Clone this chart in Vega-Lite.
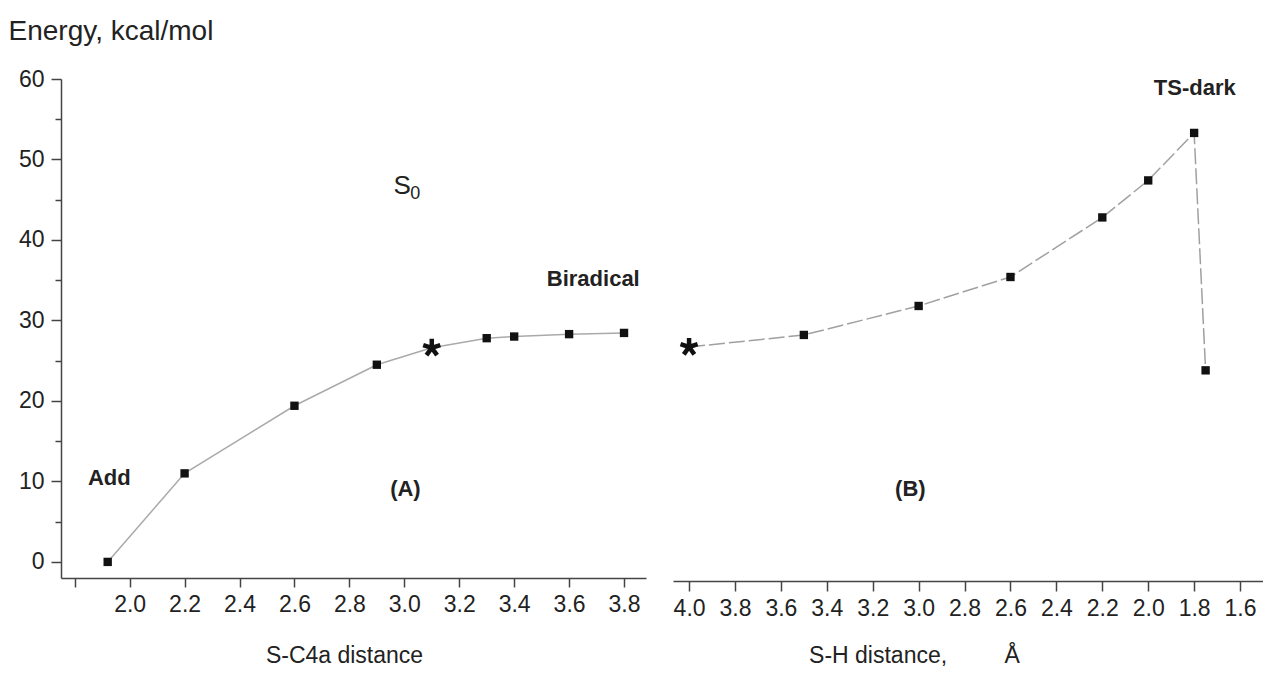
{
  "$schema": "https://vega.github.io/schema/vega-lite/v6.json",
  "background": "white",
  "padding": {"left": 8, "top": 17, "right": 0, "bottom": 0},
  "config": {
    "view": {"stroke": null},
    "font": "Liberation Sans",
    "axis": {"grid": false, "domainColor": "#444", "domainWidth": 1.5, "tickColor": "#444", "tickWidth": 1.5, "labelColor": "#222", "titleColor": "#222", "labelFont": "Liberation Sans", "titleFont": "Liberation Sans", "labelFontSize": 23, "titleFontWeight": "normal", "titleFontSize": 23, "labelOverlap": false, "labelFlush": false}
  },
  "datasets": {
    "A": [
      {"d": 1.92, "E": 0, "m": "sq"},
      {"d": 2.2, "E": 11.0, "m": "sq"},
      {"d": 2.6, "E": 19.4, "m": "sq"},
      {"d": 2.9, "E": 24.5, "m": "sq"},
      {"d": 3.1, "E": 26.6, "m": "star"},
      {"d": 3.3, "E": 27.8, "m": "sq"},
      {"d": 3.4, "E": 28.0, "m": "sq"},
      {"d": 3.6, "E": 28.3, "m": "sq"},
      {"d": 3.8, "E": 28.45, "m": "sq"}
    ],
    "B": [
      {"d": 4.0, "E": 26.7, "m": "star"},
      {"d": 3.5, "E": 28.2, "m": "sq"},
      {"d": 3.0, "E": 31.8, "m": "sq"},
      {"d": 2.6, "E": 35.4, "m": "sq"},
      {"d": 2.2, "E": 42.8, "m": "sq"},
      {"d": 2.0, "E": 47.4, "m": "sq"},
      {"d": 1.8, "E": 53.3, "m": "sq"},
      {"d": 1.75, "E": 23.8, "m": "sq"}
    ],
    "annA": [
      {"x": 1.926, "y": 10.42, "t": "Add"},
      {"x": 3.004, "y": 9.12, "t": "(A)"},
      {"x": 3.688, "y": 35.09, "t": "Biradical"}
    ],
    "annS": [{"x": 2.992, "y": 46.74, "t": "S"}],
    "annS0": [{"x": 3.04, "y": 45.75, "t": "0"}],
    "annB": [
      {"x": 3.036, "y": 9.12, "t": "(B)"},
      {"x": 1.797, "y": 58.86, "t": "TS-dark"}
    ]
  },
  "spacing": 25,
  "resolve": {"scale": {"x": "independent", "y": "independent"}},
  "hconcat": [
    {
      "width": 585,
      "height": 499,
      "layer": [
        {
          "data": {"name": "A"},
          "mark": {"type": "line", "color": "#aaaaaa", "strokeWidth": 1.5},
          "encoding": {
            "x": {
              "field": "d", "type": "quantitative",
              "scale": {"domain": [1.75, 3.88], "nice": false, "zero": false},
              "axis": {
                "values": [1.8, 1.9, 2.0, 2.1, 2.2, 2.3, 2.4, 2.5, 2.6, 2.7, 2.8, 2.9, 3.0, 3.1, 3.2, 3.3, 3.4, 3.5, 3.6, 3.7, 3.8],
                "format": ".1f",
                "labelExpr": "abs(datum.value*5 - round(datum.value*5)) < 0.001 && datum.value > 1.85 ? datum.label : ''",
                "tickSize": {"condition": {"test": "abs(datum.value*5 - round(datum.value*5)) < 0.001", "value": 9}, "value": 6},
                "labelPadding": 6,
                "title": "S-C4a distance",
                "titleX": 283,
                "titleY": 84,
                "titleAlign": "center",
                "titleBaseline": "alphabetic"
              }
            },
            "y": {
              "field": "E", "type": "quantitative",
              "scale": {"domain": [-2, 60], "nice": false, "zero": false},
              "axis": {
                "values": [0, 5, 10, 15, 20, 25, 30, 35, 40, 45, 50, 55, 60],
                "labelExpr": "datum.value % 10 == 0 ? datum.label : ''",
                "tickSize": {"condition": {"test": "datum.value % 10 == 0", "value": 10}, "value": 6},
                "labelPadding": 7,
                "title": "Energy, kcal/mol",
                "titleAngle": 0,
                "titleAlign": "left",
                "titleBaseline": "alphabetic",
                "titleX": -53,
                "titleY": -39.5,
                "titleFontSize": 28
              }
            }
          }
        },
        {
          "data": {"name": "A"},
          "transform": [{"filter": "datum.m == 'sq'"}],
          "mark": {"type": "point", "shape": "square", "filled": true, "size": 70, "color": "#111111", "opacity": 1},
          "encoding": {
            "x": {"field": "d", "type": "quantitative"},
            "y": {"field": "E", "type": "quantitative"}
          }
        },
        {
          "data": {"name": "A"},
          "transform": [{"filter": "datum.m == 'star'"}],
          "mark": {"type": "point", "shape": "M0,0L0,-1M0,0L0.95,-0.31M0,0L0.59,0.81M0,0L-0.59,0.81M0,0L-0.95,-0.31", "filled": false, "size": 324, "color": "#111111", "strokeWidth": 4.5, "opacity": 1},
          "encoding": {
            "x": {"field": "d", "type": "quantitative"},
            "y": {"field": "E", "type": "quantitative"}
          }
        },
        {
          "data": {"name": "annA"},
          "mark": {"type": "text", "font": "Liberation Sans", "fontSize": 22, "fontWeight": "bold", "color": "#222", "align": "center", "baseline": "middle"},
          "encoding": {
            "x": {"field": "x", "type": "quantitative"},
            "y": {"field": "y", "type": "quantitative"},
            "text": {"field": "t"}
          }
        },
        {
          "data": {"name": "annS"},
          "mark": {"type": "text", "font": "Liberation Sans", "fontSize": 26, "color": "#222", "align": "center", "baseline": "middle"},
          "encoding": {
            "x": {"field": "x", "type": "quantitative"},
            "y": {"field": "y", "type": "quantitative"},
            "text": {"field": "t"}
          }
        },
        {
          "data": {"name": "annS0"},
          "mark": {"type": "text", "font": "Liberation Sans", "fontSize": 18, "color": "#222", "align": "center", "baseline": "middle"},
          "encoding": {
            "x": {"field": "x", "type": "quantitative"},
            "y": {"field": "y", "type": "quantitative"},
            "text": {"field": "t"}
          }
        }
      ]
    },
    {
      "width": 590,
      "height": 499,
      "layer": [
        {
          "data": {"name": "B"},
          "mark": {"type": "line", "color": "#a0a0a0", "strokeWidth": 1.5, "strokeDash": [16, 4]},
          "encoding": {
            "x": {
              "field": "d", "type": "quantitative",
              "scale": {"domain": [4.07, 1.5], "nice": false, "zero": false},
              "axis": {
                "values": [4.0, 3.9, 3.8, 3.7, 3.6, 3.5, 3.4, 3.3, 3.2, 3.1, 3.0, 2.9, 2.8, 2.7, 2.6, 2.5, 2.4, 2.3, 2.2, 2.1, 2.0, 1.9, 1.8, 1.7, 1.6, 1.5],
                "format": ".1f",
                "labelExpr": "abs(datum.value*5 - round(datum.value*5)) < 0.001 ? datum.label : ''",
                "tickSize": {"condition": {"test": "abs(datum.value*5 - round(datum.value*5)) < 0.001", "value": 10}, "value": 5},
                "labelPadding": 6,
                "offset": 3,
                "title": "S-H distance,\u00a0\u00a0\u00a0\u00a0\u00a0\u00a0\u00a0\u00a0\u00a0Å",
                "titleX": 241,
                "titleY": 81,
                "titleAlign": "center",
                "titleBaseline": "alphabetic"
              }
            },
            "y": {
              "field": "E", "type": "quantitative",
              "scale": {"domain": [-2, 60], "nice": false, "zero": false},
              "axis": null
            }
          }
        },
        {
          "data": {"name": "B"},
          "transform": [{"filter": "datum.m == 'sq'"}],
          "mark": {"type": "point", "shape": "square", "filled": true, "size": 70, "color": "#111111", "opacity": 1},
          "encoding": {
            "x": {"field": "d", "type": "quantitative"},
            "y": {"field": "E", "type": "quantitative"}
          }
        },
        {
          "data": {"name": "B"},
          "transform": [{"filter": "datum.m == 'star'"}],
          "mark": {"type": "point", "shape": "M0,0L0,-1M0,0L0.95,-0.31M0,0L0.59,0.81M0,0L-0.59,0.81M0,0L-0.95,-0.31", "filled": false, "size": 324, "color": "#111111", "strokeWidth": 4.5, "opacity": 1},
          "encoding": {
            "x": {"field": "d", "type": "quantitative"},
            "y": {"field": "E", "type": "quantitative"}
          }
        },
        {
          "data": {"name": "annB"},
          "mark": {"type": "text", "font": "Liberation Sans", "fontSize": 22, "fontWeight": "bold", "color": "#222", "align": "center", "baseline": "middle"},
          "encoding": {
            "x": {"field": "x", "type": "quantitative"},
            "y": {"field": "y", "type": "quantitative"},
            "text": {"field": "t"}
          }
        }
      ]
    }
  ]
}
